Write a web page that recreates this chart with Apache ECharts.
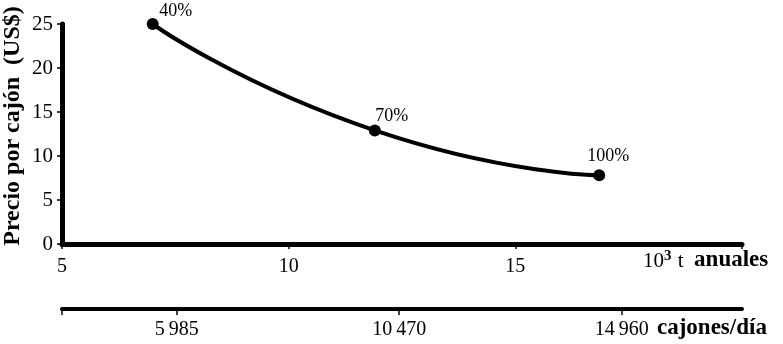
<!DOCTYPE html>
<html>
<head>
<meta charset="utf-8">
<script src="https://cdn.jsdelivr.net/npm/echarts@6/dist/echarts.min.js"></script>
<style>
html,body{margin:0;padding:0;background:#fff;}
#c{width:783px;height:344px;}
</style>
</head>
<body>
<div id="c"></div>
<script>
// Data
const tonnes = [7, 11.9, 16.85];          // 10^3 t anuales
const price = [25, 12.9, 7.8];            // US$ per cajón
const pctLabels = ['40%', '70%', '100%'];
const yTicks = [0, 5, 10, 15, 20, 25];
const xTicks = [5, 10, 15, 20];
const cajonesTicks = [5985, 10470, 14960]; // cajones/día

const FONT = '"Liberation Serif", "DejaVu Serif", serif';
const cajMin = 3670, cajMax = 17385;

const chart = echarts.init(document.getElementById('c'), null, {renderer: 'canvas'});
chart.setOption({
  animation: false,
  backgroundColor: '#fff',
  textStyle: {fontFamily: FONT, color: '#000'},
  grid: {left: 62, right: 41, top: 24, bottom: 100, containLabel: false, outerBoundsMode: 'none'},
  xAxis: [
    {
      type: 'value', min: 5, max: 20, interval: 5,
      position: 'bottom',
      axisLine: {show: true, onZero: false, lineStyle: {color: '#000', width: 5}},
      axisTick: {show: true, length: 5, lineStyle: {color: '#000', width: 1.5}},
      axisLabel: {
        margin: 13, fontSize: 20, fontFamily: FONT, color: '#000',
        formatter: v => (v === 20 ? '' : String(v))
      },
      splitLine: {show: false}
    },
    {
      type: 'value', min: cajMin, max: cajMax,
      position: 'bottom', offset: 65,
      axisLine: {show: true, onZero: false, lineStyle: {color: '#000', width: 4}},
      axisTick: {show: true, length: 6, customValues: [cajMin].concat(cajonesTicks),
                 lineStyle: {color: '#000', width: 1.5}},
      axisLabel: {
        margin: 11, fontSize: 20, fontFamily: FONT, color: '#000',
        customValues: cajonesTicks,
        formatter: v => String(v).replace(/\B(?=(\d{3})+(?!\d))/g, '\u2009')
      },
      splitLine: {show: false}
    }
  ],
  yAxis: {
    type: 'value', min: 0, max: 25, interval: 5,
    axisLine: {show: true, lineStyle: {color: '#000', width: 5}},
    axisTick: {show: true, length: 5, lineStyle: {color: '#000', width: 1.5}},
    axisLabel: {margin: 9, fontSize: 21, fontFamily: FONT, color: '#000'},
    splitLine: {show: false}
  },
  series: [{
    type: 'line',
    xAxisIndex: 0,
    data: tonnes.map((t, i) => [t, price[i]]),
    smooth: 0.6,
    symbol: 'circle', symbolSize: 12,
    lineStyle: {color: '#000', width: 4},
    itemStyle: {color: '#000'},
    label: {
      show: true, position: 'top', fontFamily: FONT, fontSize: 18, color: '#000',
      formatter: p => pctLabels[p.dataIndex]
    },
    labelLayout: function (params) {
      const offs = [[23, 7.5], [17, 5.5], [9, 0.5]];
      const o = offs[params.dataIndex];
      return {x: params.labelRect.x + o[0], y: params.labelRect.y + o[1]};
    }
  }],
  graphic: [
    {
      type: 'text', x: 13, y: 126, rotation: Math.PI / 2,
      style: {
        text: 'Precio por cajón  (US$)', fontFamily: FONT, fontSize: 24, fontWeight: 'bold',
        fill: '#000', align: 'center', verticalAlign: 'middle'
      }
    },
    {
      type: 'text', left: 643, top: 249,
      style: {
        text: '{n|10}{s|3}{n| t  }{b|anuales}',
        rich: {
          n: {fontFamily: FONT, fontSize: 21, fill: '#000', verticalAlign: 'bottom'},
          s: {fontFamily: FONT, fontSize: 15, fontWeight: 'bold', fill: '#000', verticalAlign: 'top', padding: [0, 1, 8, 0]},
          b: {fontFamily: FONT, fontSize: 23, fontWeight: 'bold', fill: '#000', verticalAlign: 'bottom'}
        }
      }
    },
    {
      type: 'text', left: 657, top: 317,
      style: {text: 'cajones/día', fontFamily: FONT, fontSize: 23, fontWeight: 'bold', fill: '#000'}
    }
  ]
});
</script>
</body>
</html>
